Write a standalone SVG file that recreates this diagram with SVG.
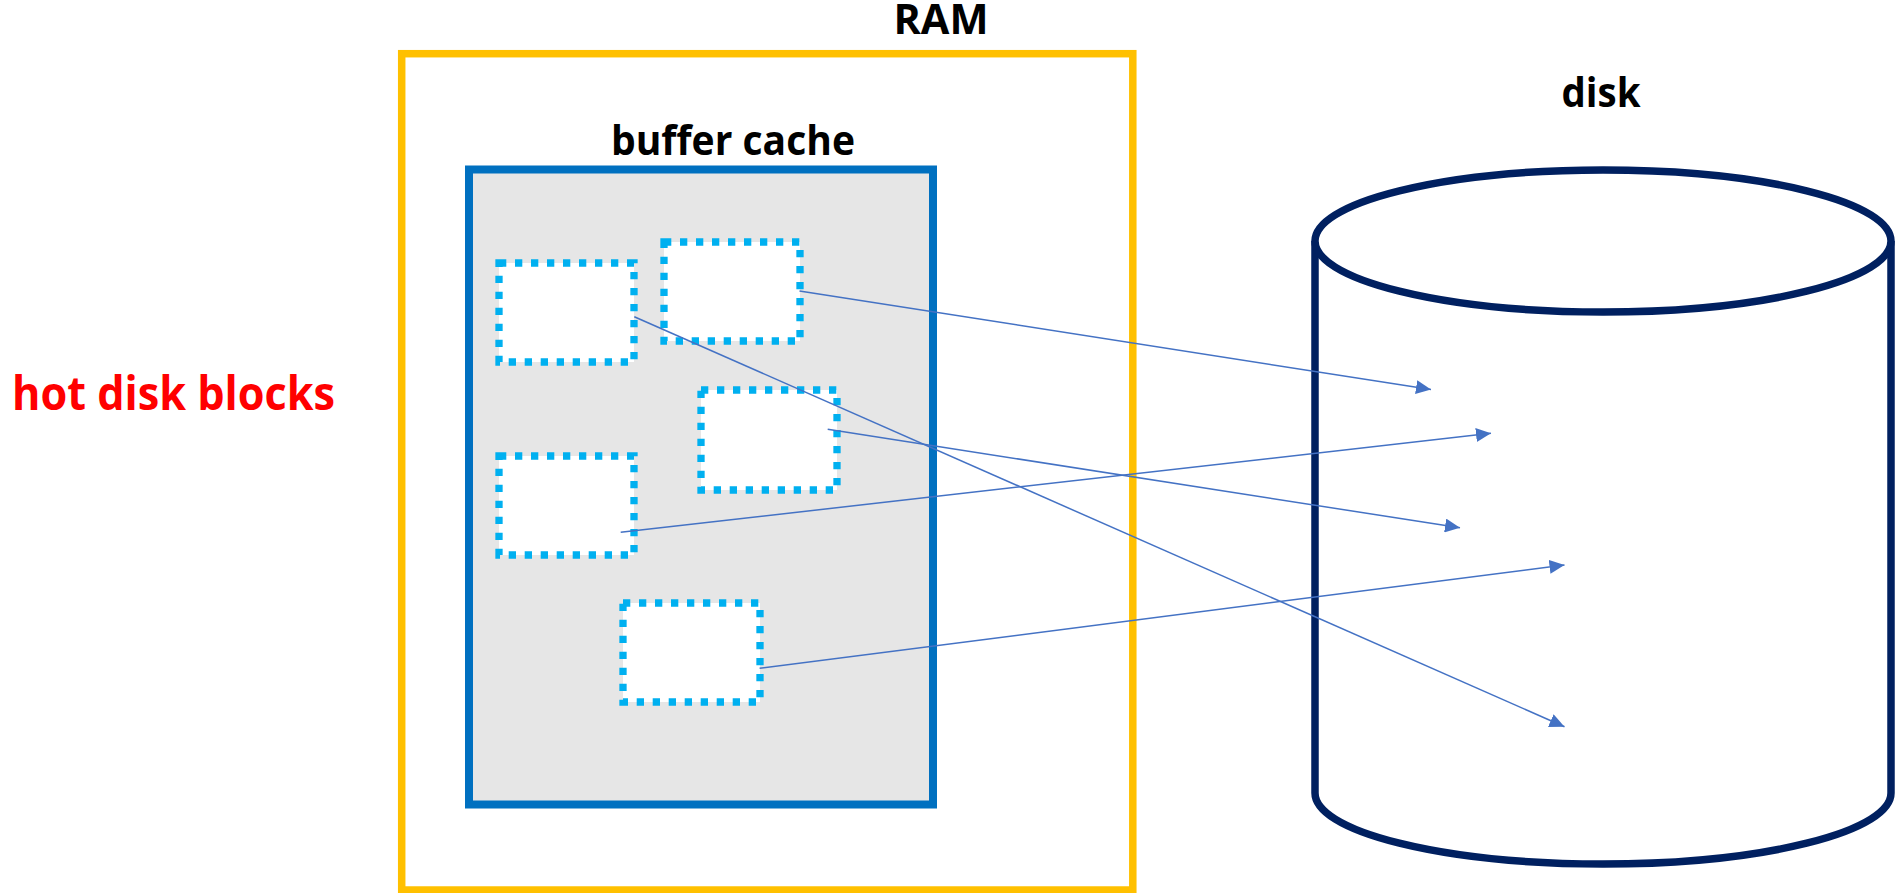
<svg xmlns="http://www.w3.org/2000/svg" width="1896" height="893" viewBox="0 0 1896 893">
  <style>
    .label { font-family: "Open Sans", "Noto Sans", "Liberation Sans", sans-serif; font-weight: bold; fill: #000000; }
    .hot { font-family: "Open Sans", "Noto Sans", "Liberation Sans", sans-serif; font-weight: bold; fill: #FF0000; }
    .block { fill: #FFFFFF; stroke: #00B0F0; stroke-width: 7.3; stroke-dasharray: 7.3 8.7; }
    .link { fill: none; stroke: #4472C4; stroke-width: 1.5; marker-end: url(#head); }
    .drum { fill: #FFFFFF; stroke: #002060; stroke-width: 7.5; }
  </style>
  <defs>
    <marker id="head" markerUnits="userSpaceOnUse" markerWidth="16" markerHeight="14" refX="15" refY="7" orient="auto">
      <path d="M0,0 L15,7 L0,14 Z" fill="#4472C4"/>
    </marker>
  </defs>

  <rect width="1896" height="893" fill="#FFFFFF"/>

  <!-- main memory -->
  <g id="ram">
    <rect x="401.7" y="53.7" width="731.1" height="836.3" fill="#FFFFFF" stroke="#FFC000" stroke-width="7.5"/>
    <text class="label" x="941" y="34" font-size="41" text-anchor="middle" textLength="95" lengthAdjust="spacingAndGlyphs">RAM</text>
  </g>

  <!-- buffer cache region inside RAM -->
  <g id="buffer-cache">
    <rect x="469" y="169.5" width="464" height="635" fill="#E6E6E6" stroke="#0070C0" stroke-width="8"/>
    <text class="label" x="733" y="155" font-size="41" text-anchor="middle" textLength="244" lengthAdjust="spacingAndGlyphs">buffer cache</text>
  </g>

  <!-- cached blocks -->
  <g id="block-a"><rect class="block" x="499" y="263" width="135" height="99"/></g>
  <g id="block-b"><rect class="block" x="664" y="242" width="136" height="99"/></g>
  <g id="block-c"><rect class="block" x="701" y="390" width="136" height="100"/></g>
  <g id="block-d"><rect class="block" x="499" y="456" width="135" height="99"/></g>
  <g id="block-e"><rect class="block" x="623" y="603" width="137" height="99"/></g>

  <!-- disk cylinder -->
  <g id="disk">
    <path class="drum" d="M1315,241 L1315,793 A288,71 0 0 0 1891,793 L1891,241"/>
    <ellipse class="drum" cx="1603" cy="241" rx="288" ry="71"/>
    <text class="label" x="1601" y="107" font-size="41" text-anchor="middle" textLength="79" lengthAdjust="spacingAndGlyphs">disk</text>
  </g>

  <!-- side label -->
  <g id="hot-label">
    <text class="hot" x="12" y="410" font-size="47" textLength="323" lengthAdjust="spacingAndGlyphs">hot disk blocks</text>
  </g>

  <!-- block to disk location mappings -->
  <g id="connectors">
    <line class="link" x1="799.5" y1="291" x2="1431" y2="389.5"/>
    <line class="link" x1="620.7" y1="532.3" x2="1491" y2="433.3"/>
    <line class="link" x1="827.7" y1="429.3" x2="1460" y2="527.8"/>
    <line class="link" x1="759.6" y1="668.3" x2="1564.5" y2="565"/>
    <line class="link" x1="634.3" y1="316.7" x2="1564.5" y2="726.7"/>
  </g>
</svg>
